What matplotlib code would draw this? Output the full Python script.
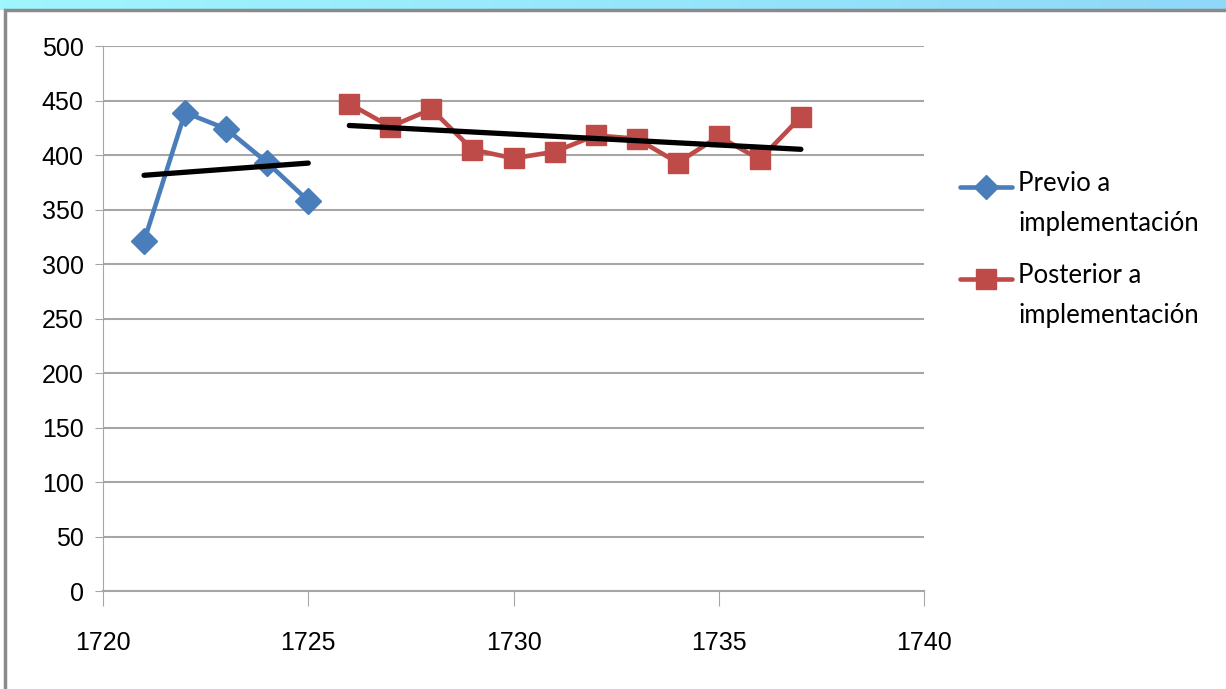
import numpy as np
import matplotlib
matplotlib.use('Agg')
import matplotlib.pyplot as plt
from matplotlib.lines import Line2D
from matplotlib.patches import Rectangle

# datos
years_pre = [1721, 1722, 1723, 1724, 1725]
vals_pre = [321, 439, 424, 393, 358]
years_post = [1726, 1727, 1728, 1729, 1730, 1731, 1732, 1733, 1734, 1735, 1736, 1737]
vals_post = [447, 426, 442, 405, 397, 403, 418, 415, 393, 417, 396, 435]
label_pre = 'Previo a\nimplementación'
label_post = 'Posterior a\nimplementación'

blue = '#4a7ebb'
red = '#be4b48'
grid_c = '#a6a6a6'

plt.rcParams['font.family'] = ['Liberation Sans Narrow', 'Liberation Sans', 'DejaVu Sans']

fig = plt.figure(figsize=(12.26, 6.89), dpi=100)

# fondo superior celeste y marco gris
grad = np.linspace(0, 1, 256).reshape(1, -1)
bg = fig.add_axes([0, 0.985, 1, 0.015])
bg.imshow(grad, aspect='auto', cmap=matplotlib.colors.LinearSegmentedColormap.from_list('c', ['#9ff6ff', '#8fd8f8']))
bg.axis('off')
fig.patches.append(Rectangle((0.004, -0.01), 1.0, 0.996, transform=fig.transFigure,
                             fill=False, edgecolor='#8a8a8a', linewidth=2.5))

ax = fig.add_axes([0.084, 0.1422, 0.6697, 0.791])

ax.plot(years_pre, vals_pre, color=blue, lw=3.3, marker='D', markersize=13.5,
        markeredgecolor=blue, zorder=3)
ax.plot(years_post, vals_post, color=red, lw=3.3, marker='s', markersize=14.5,
        markeredgecolor=red, zorder=3)

# lineas de tendencia lineales
for xs, ys in [(years_pre, vals_pre), (years_post, vals_post)]:
    xs = np.array(xs)
    p = np.polyfit(xs, ys, 1)
    ax.plot(xs[[0, -1]], np.polyval(p, xs[[0, -1]]), color='black', lw=3.8,
            solid_capstyle='round', zorder=4)

ax.set_xlim(1720, 1740)
ax.set_ylim(0, 500)
ax.set_xticks(range(1720, 1741, 5))
ax.set_yticks(range(0, 501, 50))
ax.yaxis.grid(True, color=grid_c, lw=1.5)
ax.set_axisbelow(True)
for s in ['top', 'right']:
    ax.spines[s].set_visible(False)
ax.spines['left'].set_color(grid_c)
ax.spines['bottom'].set_color(grid_c)
ax.spines['bottom'].set_linewidth(1.5)
ax.tick_params(axis='y', length=6, color=grid_c, labelsize=18, pad=8)
ax.tick_params(axis='x', length=11, color=grid_c, labelsize=18, pad=18)

# leyenda dibujada a mano
W, H = 1226, 689
for (lab, col, mk, ms, yc) in [(label_pre, blue, 'D', 12, 187), (label_post, red, 's', 14, 279)]:
    fig.add_artist(Line2D([960 / W, 1012 / W], [1 - yc / H] * 2, color=col, lw=3.3,
                          solid_capstyle='round'))
    fig.add_artist(Line2D([986 / W], [1 - yc / H], color=col,
                          marker=mk, markersize=ms))
    fig.text(1018 / W, 1 - (yc - 16) / H, lab, ha='left', va='top', fontsize=18.5,
             linespacing=1.75, family=['Lato', 'DejaVu Sans'])

fig.savefig('out.png', dpi=100)
